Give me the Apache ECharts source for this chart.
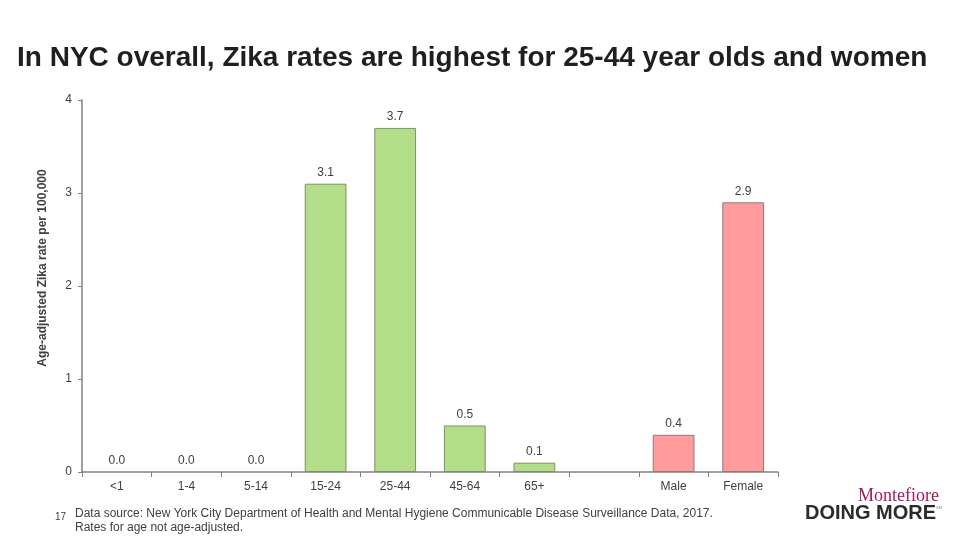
<!DOCTYPE html>
<html>
<head>
<meta charset="utf-8">
<script src="https://cdn.jsdelivr.net/npm/echarts@6/dist/echarts.min.js"></script>
<style>html,body{margin:0;padding:0;background:#fff;}#c{width:960px;height:540px;}</style>
</head>
<body>
<div id="c"></div>
<script>
const categories = ['<1', '1-4', '5-14', '15-24', '25-44', '45-64', '65+', '', 'Male', 'Female'];
const values = [0.0, 0.0, 0.0, 3.1, 3.7, 0.5, 0.1, null, 0.4, 2.9];
const groups = ['age', 'age', 'age', 'age', 'age', 'age', 'age', 'none', 'sex', 'sex'];
const yTicks = [0, 1, 2, 3, 4];

const fillColors = { age: '#b3de89', sex: '#ff9b9b', none: '#ffffff' };
const borderColors = { age: '#7f8c6c', sex: '#8c7b7b', none: '#ffffff' };

const chart = echarts.init(document.getElementById('c'));
chart.setOption({
  animation: false,
  backgroundColor: '#ffffff',
  title: {
    text: 'In NYC overall, Zika rates are highest for 25-44 year olds and women',
    left: 12, top: 39,
    textStyle: { fontFamily: 'Liberation Sans', fontSize: 28, fontWeight: 'bold', color: '#1f1f1f' }
  },
  grid: { left: 82, right: 182, top: 100, bottom: 68 },
  xAxis: {
    type: 'category',
    data: categories,
    axisLine: { lineStyle: { color: '#808080', width: 1.5 } },
    axisTick: { show: true, alignWithLabel: false, length: 5, lineStyle: { color: '#808080' } },
    axisLabel: { color: '#404040', fontFamily: 'Liberation Sans', fontSize: 12, margin: 9, interval: 0 }
  },
  yAxis: {
    type: 'value',
    min: yTicks[0], max: yTicks[yTicks.length - 1], interval: 1,
    axisLine: { show: true, lineStyle: { color: '#808080', width: 1.5 } },
    axisTick: { show: true, length: 4, lineStyle: { color: '#808080' } },
    splitLine: { show: false },
    axisLabel: { color: '#404040', fontFamily: 'Liberation Sans', fontSize: 12, margin: 10 }
  },
  series: [{
    type: 'bar',
    barCategoryGap: '40%',
    data: values.map((v, i) => ({
      value: v === null ? '-' : v,
      itemStyle: { color: fillColors[groups[i]], borderColor: borderColors[groups[i]], borderWidth: v ? 1 : 0 }
    })),
    label: {
      show: true, position: 'top', distance: 5,
      color: '#404040', fontFamily: 'Liberation Sans', fontSize: 12,
      formatter: p => (typeof p.value === 'number' ? p.value.toFixed(1) : '')
    }
  }],
  graphic: [
    { type: 'text', rotation: Math.PI / 2, position: [43, 268],
      style: { text: 'Age-adjusted Zika rate per 100,000', x: 0, y: 0, fill: '#404040',
        font: 'bold 12px "Liberation Sans"', textAlign: 'center', textVerticalAlign: 'middle' } },
    { type: 'text', position: [55, 517],
      style: { text: '17', fill: '#404040', font: '10px "Liberation Sans"', textVerticalAlign: 'middle' } },
    { type: 'text', position: [75, 507],
      style: { text: 'Data source: New York City Department of Health and Mental Hygiene Communicable Disease Surveillance Data, 2017.\nRates for age not age-adjusted.',
        fill: '#404040', font: '12px "Liberation Sans"', lineHeight: 14 } },
    { type: 'text', position: [858, 487],
      style: { text: 'Montefiore', fill: '#a3195b', font: '18px "Liberation Serif"' } },
    { type: 'text', position: [805, 503],
      style: { text: 'DOING MORE', fill: '#2b2b2b', font: 'bold 20px "Liberation Sans"' } },
    { type: 'text', position: [936, 506],
      style: { text: 'SM', fill: '#888888', font: '4px "Liberation Sans"' } }
  ]
});
</script>
</body>
</html>
